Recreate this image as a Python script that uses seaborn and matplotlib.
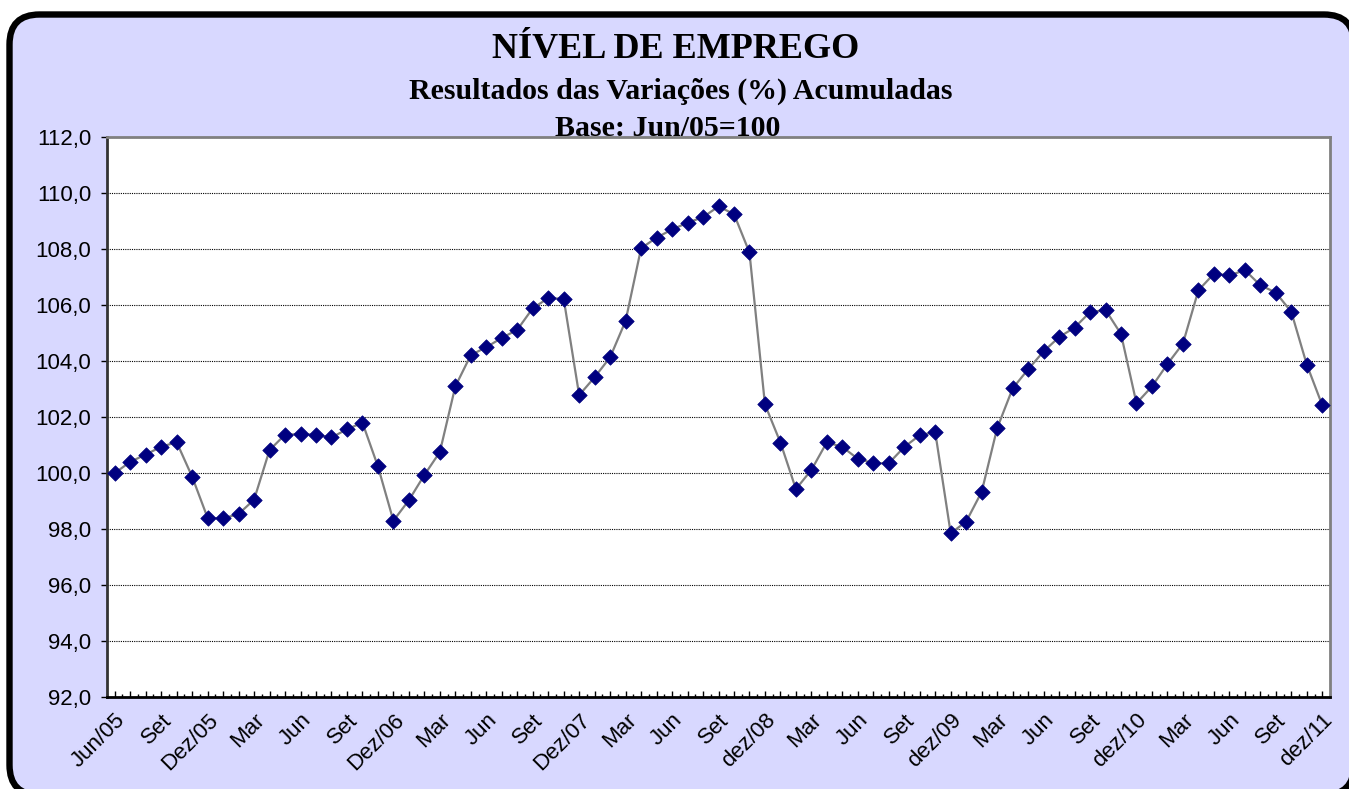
import matplotlib
matplotlib.use("Agg")
import matplotlib.pyplot as plt
import seaborn as sns
import pandas as pd
from matplotlib.patches import FancyBboxPatch
from matplotlib.ticker import FixedLocator, FuncFormatter

# ---------------- data ----------------
month_names = ["Jan", "Fev", "Mar", "Abr", "Mai", "Jun", "Jul", "Ago", "Set", "Out", "Nov", "Dez"]
categories = []
for yr in range(2005, 2012):
    for mi, mn in enumerate(month_names):
        if yr == 2005 and mi < 5:
            continue
        categories.append(f"{mn}/{str(yr)[2:]}")

values = [
    100.00, 100.40, 100.66, 100.94, 101.10, 99.87, 98.40,                                     # 2005
    98.38, 98.54, 99.05, 100.82, 101.37, 101.39, 101.37, 101.27, 101.56, 101.80, 100.24, 98.30,  # 2006
    99.03, 99.93, 100.75, 103.09, 104.21, 104.49, 104.82, 105.11, 105.88, 106.24, 106.22, 102.78,  # 2007
    103.42, 104.13, 105.43, 108.02, 108.40, 108.69, 108.93, 109.13, 109.51, 109.24, 107.87, 102.45,  # 2008
    101.09, 99.43, 100.11, 101.10, 100.93, 100.51, 100.35, 100.35, 100.93, 101.35, 101.46, 97.85,  # 2009
    98.27, 99.33, 101.60, 103.02, 103.70, 104.34, 104.85, 105.19, 105.74, 105.82, 104.96, 102.49,  # 2010
    103.09, 103.89, 104.62, 106.52, 107.11, 107.05, 107.24, 106.70, 106.44, 105.75, 103.87, 102.42,  # 2011
]

tick_labels = ["Jun/05", "Set", "Dez/05", "Mar", "Jun", "Set", "Dez/06", "Mar", "Jun", "Set",
               "Dez/07", "Mar", "Jun", "Set", "dez/08", "Mar", "Jun", "Set", "dez/09", "Mar",
               "Jun", "Set", "dez/10", "Mar", "Jun", "Set", "dez/11"]

title = "NÍVEL DE EMPREGO"
subtitle = "Resultados das Variações (%) Acumuladas"
base_text = "Base: Jun/05=100"

df = pd.DataFrame({"idx": range(len(values)), "mes": categories, "valor": values})

# ---------------- figure ----------------
W, H = 1349, 789
fig = plt.figure(figsize=(W / 100, H / 100), dpi=100)
fig.patch.set_facecolor("white")

# rounded lavender frame (in inches)
frame = FancyBboxPatch((9.5 / 100, -6 / 100), (1354 - 9.5) / 100, (795 - 14.5) / 100,
                       boxstyle="round,pad=0,rounding_size=0.30",
                       transform=fig.dpi_scale_trans, facecolor="#D8D8FF",
                       edgecolor="black", linewidth=4.6, zorder=-10)
fig.add_artist(frame)

serif = ["Liberation Serif", "DejaVu Serif"]
sans = ["Liberation Sans", "DejaVu Sans"]

fig.text(676 / W, 1 - 49 / H, title, ha="center", va="center", fontsize=26,
         fontweight="bold", family=serif, zorder=-5)
fig.text(681 / W, 1 - 91 / H, subtitle, ha="center", va="center", fontsize=21.5,
         fontweight="bold", family=serif, zorder=-5)
fig.text(668 / W, 1 - 128 / H, base_text, ha="center", va="center", fontsize=21.5,
         fontweight="bold", family=serif, zorder=-5)

left, right, top, bottom = 107, 1330, 136.7, 697.3
ax = fig.add_axes([left / W, (H - bottom) / H, (right - left) / W, (bottom - top) / H])
ax.set_facecolor("white")

sns.lineplot(data=df, x="idx", y="valor", ax=ax, color="#808080", linewidth=1.6,
             zorder=3, legend=False)
sns.scatterplot(data=df, x="idx", y="valor", ax=ax, marker="D", s=62,
                color="#000080", edgecolor="#000080", linewidth=0.5, zorder=4, legend=False)

ax.set_xlim(-0.5, len(values) - 0.5)
ax.set_ylim(92, 112)
ax.set_xlabel("")
ax.set_ylabel("")

# y axis
yticks = list(range(92, 113, 2))
ax.yaxis.set_major_locator(FixedLocator(yticks))
ax.yaxis.set_major_formatter(FuncFormatter(lambda v, p: f"{v:.1f}".replace(".", ",")))
ax.tick_params(axis="y", direction="out", length=4.5, width=1, color="black",
               pad=7, labelsize=16)
for lab in ax.get_yticklabels():
    lab.set_family(sans)

# x axis
ax.xaxis.set_major_locator(FixedLocator(list(range(len(values)))))
major_labels = ["" for _ in range(len(values))]
for i, t in enumerate(tick_labels):
    major_labels[i * 3] = t
ax.set_xticklabels(major_labels)
ax.xaxis.set_minor_locator(FixedLocator([i - 0.5 for i in range(len(values) + 1)]))
ax.tick_params(axis="x", which="major", direction="in", length=4.5, width=1,
               color="black", pad=9, labelsize=16)
ax.tick_params(axis="x", which="minor", direction="in", length=2.2, width=1, color="black")
for lab in ax.get_xticklabels():
    lab.set_rotation(45)
    lab.set_ha("right")
    lab.set_va("top")
    lab.set_rotation_mode("anchor")
    lab.set_family(sans)

# grid
ax.yaxis.grid(True, color="black", linestyle=(0, (1, 1)), linewidth=0.8, zorder=1)
ax.xaxis.grid(False)
ax.set_axisbelow(True)

# spines
ax.spines["left"].set_color("#333333")
ax.spines["left"].set_linewidth(2)
ax.spines["bottom"].set_color("black")
ax.spines["bottom"].set_linewidth(2)
for s in ["top", "right"]:
    ax.spines[s].set_color("#808080")
    ax.spines[s].set_linewidth(2)
    ax.spines[s].set_visible(True)

fig.savefig("out.png", dpi=100)
